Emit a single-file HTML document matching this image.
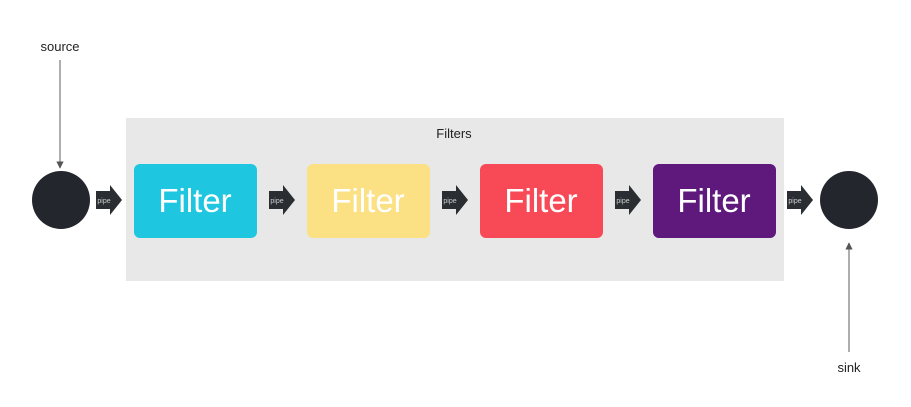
<!DOCTYPE html>
<html><head><meta charset="utf-8"><style>
html,body{margin:0;padding:0;background:#fff;}
svg{display:block;}
text{font-family:"Liberation Sans",sans-serif;}
</style></head><body>
<svg width="911" height="407" viewBox="0 0 911 407" xmlns="http://www.w3.org/2000/svg">
<defs>
<marker id="ah" viewBox="0 0 10 10" refX="9" refY="5" markerWidth="6" markerHeight="6" orient="auto"><path d="M0,0 L10,5 L0,10 z" fill="#555"/></marker>
<g id="pipe"><path d="M0,-9 L14,-9 L14,-15 L26,0 L14,15 L14,9 L0,9 z" fill="#2a2d32"/><text x="8" y="3" font-size="7" fill="#ccc" text-anchor="middle">pipe</text></g>
</defs>
<rect x="126" y="118" width="658" height="163" fill="#e8e8e8"/>
<text x="454" y="138" font-size="13" fill="#222" text-anchor="middle">Filters</text>
<text x="60" y="51" font-size="13" fill="#222" text-anchor="middle">source</text>
<line x1="60" y1="60" x2="60" y2="168" stroke="#777" stroke-width="1.2" marker-end="url(#ah)"/>
<circle cx="61" cy="200" r="29" fill="#23262d"/>
<circle cx="849" cy="200" r="29" fill="#23262d"/>
<line x1="849" y1="352" x2="849" y2="243" stroke="#777" stroke-width="1.2" marker-end="url(#ah)"/>
<text x="849" y="372" font-size="13" fill="#222" text-anchor="middle">sink</text>
<rect x="134" y="164" width="123" height="74" rx="6" fill="#1ec6df"/>
<rect x="307" y="164" width="123" height="74" rx="6" fill="#fbe084"/>
<rect x="480" y="164" width="123" height="74" rx="6" fill="#f84a56"/>
<rect x="653" y="164" width="123" height="74" rx="6" fill="#5f187c"/>
<g font-size="33" fill="#fff" text-anchor="middle">
<text x="195" y="212">Filter</text>
<text x="368" y="212">Filter</text>
<text x="541" y="212">Filter</text>
<text x="714" y="212">Filter</text>
</g>
<use href="#pipe" x="96" y="200"/>
<use href="#pipe" x="269" y="200"/>
<use href="#pipe" x="442" y="200"/>
<use href="#pipe" x="615" y="200"/>
<use href="#pipe" x="787" y="200"/>
</svg>
</body></html>
